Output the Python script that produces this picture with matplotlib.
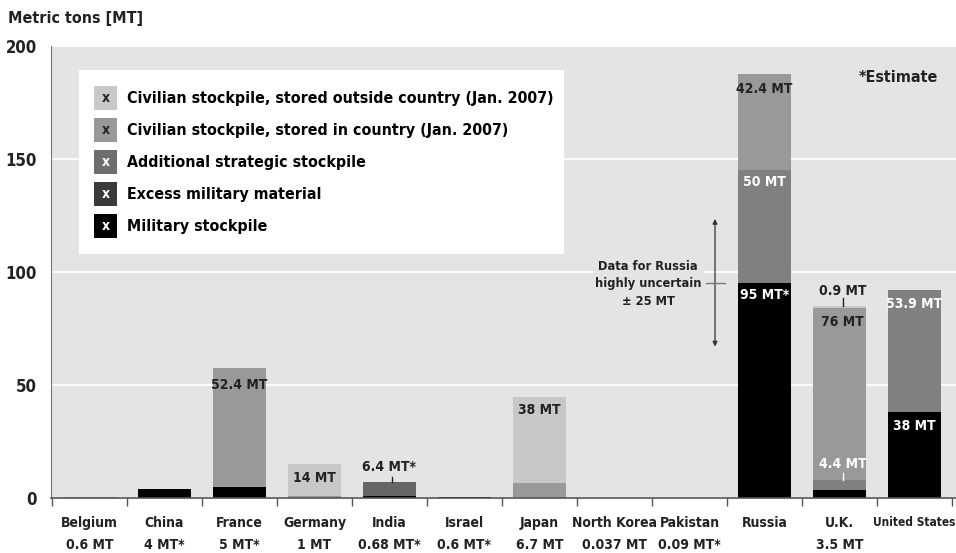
import matplotlib
matplotlib.use("Agg")
import matplotlib.pyplot as plt
from matplotlib.patches import Rectangle
import numpy as np

# stockpiles in metric tons, stacked bottom -> top
countries = ["Belgium", "China", "France", "Germany", "India", "Israel", "Japan",
             "North Korea", "Pakistan", "Russia", "U.K.", "United States"]
totals_text = ["0.6 MT", "4 MT*", "5 MT*", "1 MT", "0.68 MT*", "0.6 MT*", "6.7 MT",
               "0.037 MT", "0.09 MT*", "", "3.5 MT", ""]
military = [0, 4, 5, 0, 0.68, 0.6, 0, 0.037, 0.09, 95, 3.5, 38]
excess = [0, 0, 0, 0, 0, 0, 0, 0, 0, 50, 4.4, 53.9]
strategic = [0, 0, 0, 0, 6.4, 0, 0, 0, 0, 0, 0, 0]
civ_in = [0.6, 0, 52.4, 1, 0, 0, 6.7, 0, 0, 42.4, 76, 0]
civ_out = [0, 0, 0, 14, 0, 0, 38, 0, 0, 0, 0.9, 0]

legend_labels = ["Civilian stockpile, stored outside country (Jan. 2007)",
                 "Civilian stockpile, stored in country (Jan. 2007)",
                 "Additional strategic stockpile",
                 "Excess military material",
                 "Military stockpile"]

plt.rcParams["font.family"] = "DejaVu Sans"
plt.rcParams["font.weight"] = "bold"
plt.rcParams["font.stretch"] = "condensed"

BG = "#e4e4e4"
TXT = "#222222"
bar_colors = ["#000000", "#808080", "#666666", "#999999", "#c8c8c8"]
legend_colors = ["#c8c8c8", "#999999", "#6e6e6e", "#3a3a3a", "#000000"]

W, H = 956, 553
fig = plt.figure(figsize=(W / 100, H / 100), dpi=100)
ax = fig.add_axes([51 / W, 1 - 498 / H, 905 / W, 452 / H])
ax.set_facecolor(BG)

x = np.arange(len(countries))
bottom = np.zeros(len(countries))
for vals, col in zip([military, excess, strategic, civ_in, civ_out], bar_colors):
    vals = np.array(vals)
    ax.bar(x, vals, 0.7, bottom=bottom, color=col, edgecolor="none", zorder=2)
    bottom += vals

ax.set_xlim(-0.513, 11.553)
ax.set_ylim(0, 200)
ax.set_yticks([0, 50, 100, 150, 200])
ax.yaxis.grid(True, color="white", lw=1.3, zorder=0)
ax.set_axisbelow(True)
ax.tick_params(axis="y", length=0, pad=10, labelsize=12, labelcolor=TXT)

ax.set_xticks(x)
ax.set_xticklabels([f"{c}\n{t}" if t else c for c, t in zip(countries, totals_text)],
                   linespacing=1.7, va="top")
ax.set_xticks(np.arange(-0.5, 12, 1), minor=True)
ax.tick_params(axis="x", which="major", length=0, pad=13, labelsize=10, labelcolor=TXT)
ax.tick_params(axis="x", which="minor", length=6, width=1, color="#555555", direction="out")
ax.get_xticklabels()[-1].set_fontsize(8.6)

for s in ["top", "right"]:
    ax.spines[s].set_visible(False)
ax.spines["left"].set_color("#777777")
ax.spines["bottom"].set_color("#555555")
ax.spines["bottom"].set_linewidth(1.2)

fig.text(8 / W, 1 - 18 / H, "Metric tons [MT]", fontsize=11.5, color=TXT, va="center")

# segment labels: text, country index, y, colour, leader from -> to
seg_labels = [
    ("52.4 MT", 2, 50, TXT, None),
    ("14 MT", 3, 9, TXT, None),
    ("6.4 MT*", 4, 13.5, TXT, (7.1, 9.5)),
    ("38 MT", 6, 39, TXT, None),
    ("42.4 MT", 9, 181, TXT, None),
    ("50 MT", 9, 140, "white", None),
    ("95 MT*", 9, 90, "white", None),
    ("0.9 MT", 10, 91.5, TXT, (84.8, 88.3)),
    ("76 MT", 10, 78, TXT, None),
    ("4.4 MT", 10, 15, "white", (7.9, 11)),
    ("53.9 MT", 11, 86, "white", None),
    ("38 MT", 11, 32, "white", None),
]
for txt, i, y, col, lead in seg_labels:
    ax.text(i + 0.04 if i == 10 else i, y, txt, ha="center", va="center",
            fontsize=10, color=col, zorder=4)
    if lead:
        ax.plot([i + 0.04, i + 0.04], lead, color=col, lw=1, zorder=4)

ax.text(11.31, 186, "*Estimate", ha="right", va="center", fontsize=11.5, color=TXT)

# Russia uncertainty note
ax.annotate("", xy=(8.34, 67), xytext=(8.34, 123.5), zorder=5,
            arrowprops=dict(arrowstyle="<|-|>", color="#333333", lw=0.9,
                            mutation_scale=7, shrinkA=0, shrinkB=0))
ax.plot([8.22, 8.47], [95, 95], color="#777777", lw=1, zorder=5)
ax.text(7.45, 94.7, "Data for Russia\nhighly uncertain\n\u00b1 25 MT", ha="center",
        va="center", fontsize=9.2, color=TXT, linespacing=1.45, zorder=3,
        bbox=dict(facecolor=BG, edgecolor="none", pad=1.5))


# legend box drawn in axes fractions from pixel positions
def frac(px, py):
    return (px - 51) / 905, (498 - py) / 452


x0, y0 = frac(79, 254)
x1, y1 = frac(564, 70)
ax.add_patch(Rectangle((x0, y0), x1 - x0, y1 - y0, transform=ax.transAxes,
                       facecolor="white", edgecolor="none", zorder=5))
for k, (lab, col) in enumerate(zip(legend_labels, legend_colors)):
    cy = 98 + 32 * k
    sx, sy = frac(94, cy + 12)
    sx2, sy2 = frac(117, cy - 12)
    ax.add_patch(Rectangle((sx, sy), sx2 - sx, sy2 - sy, transform=ax.transAxes,
                           facecolor=col, edgecolor="none", zorder=6))
    cx, cyf = frac(105.5, cy)
    ax.text(cx, cyf, "x", transform=ax.transAxes, ha="center", va="center",
            fontsize=10, color=TXT if k < 2 else "white", zorder=7)
    tx, _ = frac(127, cy)
    ax.text(tx, cyf, lab, transform=ax.transAxes, ha="left", va="center",
            fontsize=11.4, color="black", zorder=7)

fig.savefig("out.png", dpi=100)
